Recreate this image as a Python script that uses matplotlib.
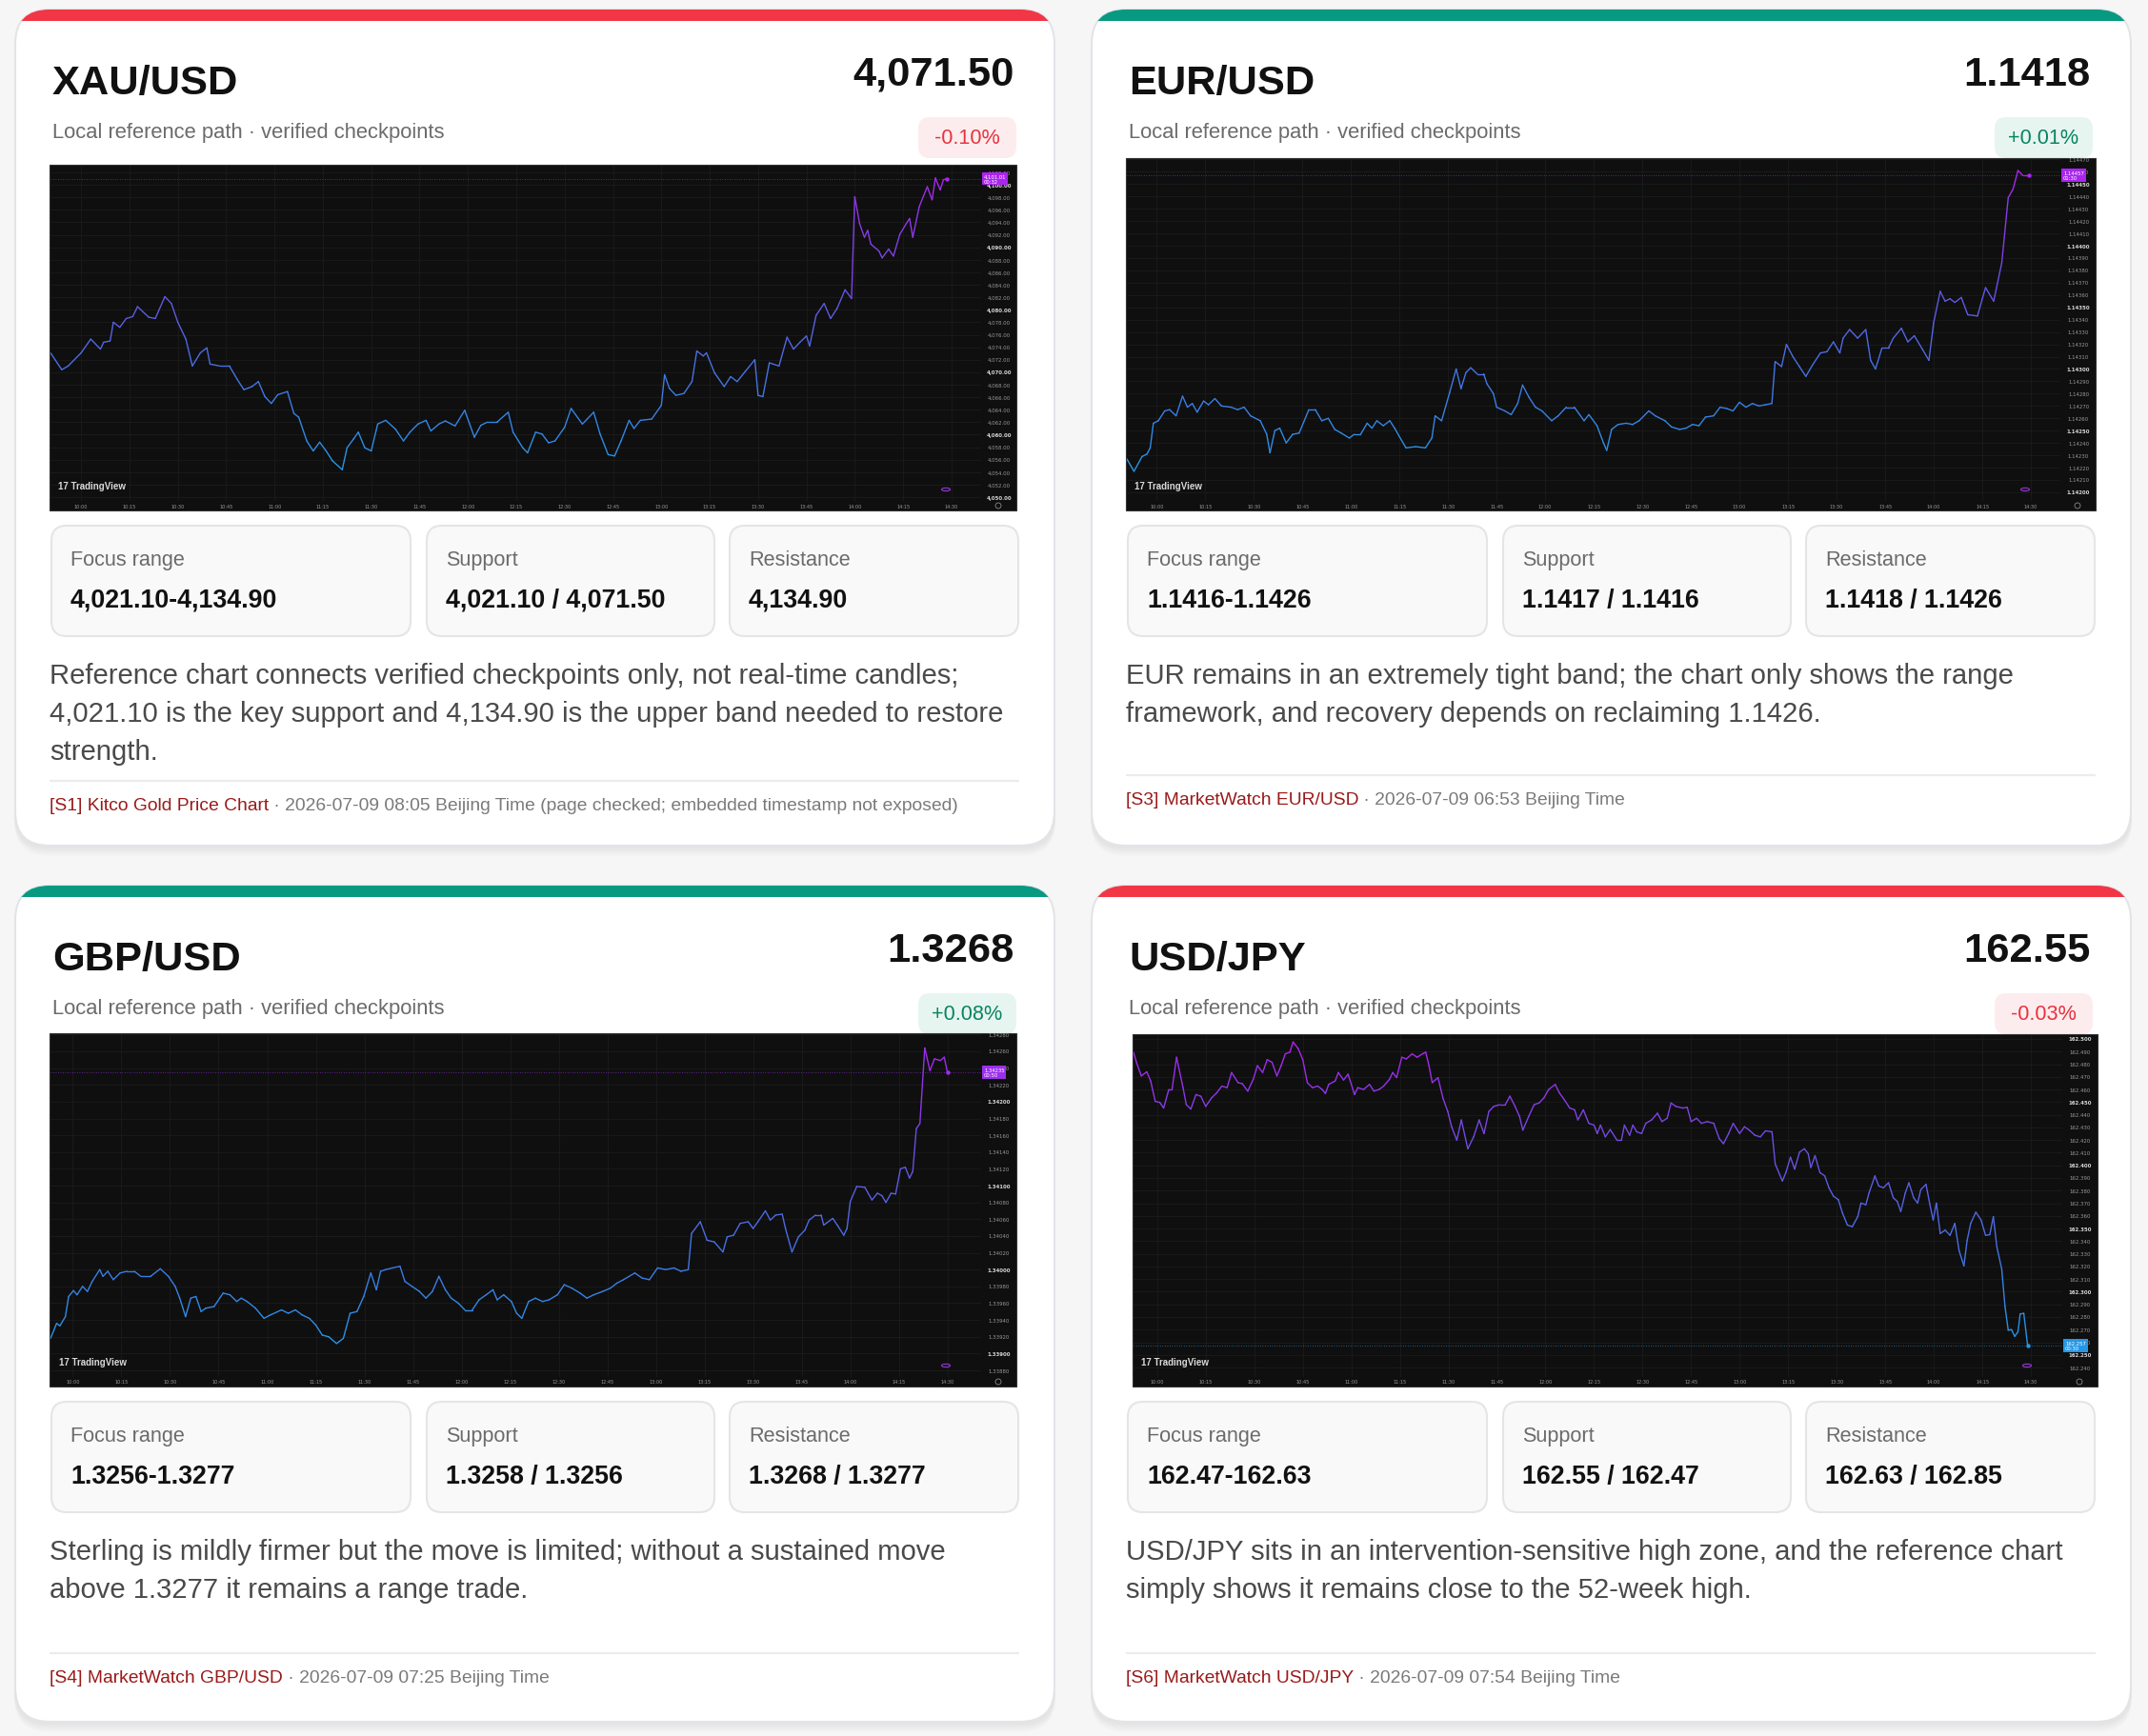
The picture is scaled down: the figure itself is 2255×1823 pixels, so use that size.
import numpy as np
import matplotlib
matplotlib.use("Agg")
import matplotlib.pyplot as plt
from matplotlib.patches import FancyBboxPatch, Rectangle, Circle
from matplotlib.collections import LineCollection
from matplotlib.colors import LinearSegmentedColormap

plt.rcParams["font.family"] = ["Liberation Sans", "DejaVu Sans"]

W_PX, H_PX, DPI = 2255, 1824, 100

# ---- card texts ----
pairs = ["XAU/USD", "EUR/USD", "GBP/USD", "USD/JPY"]
prices = ["4,071.50", "1.1418", "1.3268", "162.55"]
changes = ["-0.10%", "+0.01%", "+0.08%", "-0.03%"]
focus_ranges = ["4,021.10-4,134.90", "1.1416-1.1426", "1.3256-1.3277", "162.47-162.63"]
supports = ["4,021.10 / 4,071.50", "1.1417 / 1.1416", "1.3258 / 1.3256", "162.55 / 162.47"]
resistances = ["4,134.90", "1.1418 / 1.1426", "1.3268 / 1.3277", "162.63 / 162.85"]
notes = [
    ["Reference chart connects verified checkpoints only, not real-time candles;",
     "4,021.10 is the key support and 4,134.90 is the upper band needed to restore",
     "strength."],
    ["EUR remains in an extremely tight band; the chart only shows the range",
     "framework, and recovery depends on reclaiming 1.1426."],
    ["Sterling is mildly firmer but the move is limited; without a sustained move",
     "above 1.3277 it remains a range trade."],
    ["USD/JPY sits in an intervention-sensitive high zone, and the reference chart",
     "simply shows it remains close to the 52-week high."],
]
sources = ["[S1] Kitco Gold Price Chart", "[S3] MarketWatch EUR/USD",
           "[S4] MarketWatch GBP/USD", "[S6] MarketWatch USD/JPY"]
source_times = ["2026-07-09 08:05 Beijing Time (page checked; embedded timestamp not exposed)",
                "2026-07-09 06:53 Beijing Time", "2026-07-09 07:25 Beijing Time",
                "2026-07-09 07:54 Beijing Time"]
tag_prices = ["4,101.01", "1.14457", "1.34235", "162.257"]
tag_timers = ["00:32", "01:30", "00:50", "00:30"]

# time axis of the embedded charts (minutes after 10:00)
time_labels = ["10:00", "10:15", "10:30", "10:45", "11:00", "11:15", "11:30", "11:45", "12:00",
               "12:15", "12:30", "12:45", "13:00", "13:15", "13:30", "13:45", "14:00", "14:15", "14:30"]
time_pos = [0, 15, 30, 45, 60, 75, 90, 105, 120, 135, 150, 165, 180, 195, 210, 225, 240, 255, 270]

# ---- price paths: (minutes after 10:00, price) ----
xau_path = [
    (-9.5, 4073.1), (-6, 4070.4), (-4, 4071.0), (0, 4073.1), (3, 4075.3), (6, 4073.7), (7, 4074.8),
    (9, 4075.0), (10, 4078.0), (12, 4077.2), (14, 4078.6), (16, 4078.9), (17.5, 4080.5), (21, 4078.8),
    (23, 4078.6), (26, 4082.1), (28, 4081.0), (30, 4078.0), (32.5, 4075.3), (34.5, 4071.0), (37, 4073.1),
    (39, 4073.9), (40, 4071.3), (43, 4071.0), (46, 4071.0), (48.5, 4068.8), (50.5, 4067.2), (53, 4067.7),
    (55, 4068.5), (57, 4066.1), (59, 4065.0), (61, 4066.4), (64, 4066.9), (66, 4063.4), (67.5, 4062.8),
    (70, 4059.0), (72, 4057.4), (74, 4058.8), (76, 4057.4), (78, 4055.8), (81, 4054.4), (82.5, 4057.9),
    (84.5, 4059.3), (86, 4060.4), (88, 4057.9), (90, 4057.4), (92, 4061.7), (94.5, 4062.3), (97.5, 4060.9),
    (100, 4059.0), (102, 4060.4), (104.5, 4061.7), (107, 4062.3), (108.5, 4060.6), (111, 4061.7),
    (113, 4062.2), (116, 4061.4), (119, 4063.9), (122, 4059.6), (124, 4061.5), (126, 4062.0),
    (129, 4062.0), (132.5, 4063.6), (134, 4060.4), (137, 4057.9), (138.5, 4057.1), (141, 4060.4),
    (143, 4060.1), (145, 4058.7), (147, 4059.0), (150, 4061.2), (152, 4064.2), (155.5, 4061.7),
    (159, 4063.6), (161, 4060.1), (163.5, 4056.8), (165.5, 4056.6), (167.5, 4059.0), (170, 4062.3),
    (171.5, 4061.0), (173.5, 4062.3), (177, 4062.5), (180, 4064.7), (181, 4069.6), (182.5, 4067.4),
    (184.5, 4066.3), (187, 4066.6), (189.5, 4068.5), (191, 4073.4), (193, 4072.6), (194, 4073.1),
    (196.5, 4069.9), (199.5, 4067.7), (201.5, 4069.3), (203.5, 4068.5), (206, 4070.1), (209, 4072.0),
    (210, 4066.3), (211.5, 4066.1), (213.5, 4071.5), (216.5, 4071.0), (219, 4075.6), (221, 4073.7),
    (223, 4074.8), (225, 4075.8), (226, 4074.2), (228, 4079.1), (230.5, 4081.0), (232.5, 4078.6),
    (234.5, 4080.2), (237, 4083.2), (239, 4081.8), (240, 4098.1), (241.5, 4093.8), (243, 4091.6),
    (244, 4092.7), (245, 4090.5), (247.5, 4089.4), (248.5, 4088.3), (250.5, 4089.7), (252, 4088.6),
    (254, 4092.1), (256, 4093.8), (257, 4094.6), (258, 4091.6), (260, 4096.5), (262.5, 4099.7),
    (264, 4097.6), (265, 4101.1), (266.5, 4099.2), (267.5, 4100.8), (268.5, 4101.0),
]

eur_path = [
    (-9.2, 1.14227), (-7, 1.14217), (-4.5, 1.14229), (-3, 1.14231), (-2, 1.14236), (-1, 1.14256),
    (0.5, 1.14258), (2.5, 1.14266), (4, 1.14267), (6, 1.14262), (8, 1.14278), (9.5, 1.14269),
    (11, 1.14272), (12.5, 1.14265), (14.5, 1.14274), (16, 1.14271), (18, 1.14276), (20, 1.14270),
    (23, 1.14269), (25, 1.14267), (27, 1.14269), (29, 1.14262), (32, 1.14258), (34, 1.14247),
    (35, 1.14232), (36.5, 1.14250), (38, 1.14252), (40, 1.14240), (42, 1.14247), (44, 1.14248),
    (47, 1.14267), (49, 1.14267), (51, 1.14258), (53, 1.14260), (55, 1.14251), (57, 1.14248),
    (59.5, 1.14244), (61, 1.14247), (63, 1.14247), (65, 1.14256), (66.5, 1.14252), (68, 1.14258),
    (70, 1.14254), (72, 1.14258), (73.5, 1.14252), (75, 1.14245), (77, 1.14236), (80, 1.14237),
    (83, 1.14236), (85, 1.14244), (86, 1.14262), (88, 1.14258), (90.5, 1.14281), (92.5, 1.14300),
    (94, 1.14284), (95.5, 1.14297), (97, 1.14301), (99, 1.14296), (101, 1.14296), (102, 1.14288),
    (104, 1.14280), (105, 1.14269), (107.5, 1.14266), (109.5, 1.14263), (111.5, 1.14272),
    (113, 1.14287), (115, 1.14277), (117, 1.14269), (119, 1.14266), (122, 1.14258), (124, 1.14262),
    (126.5, 1.14269), (129, 1.14269), (132, 1.14258), (133.5, 1.14263), (136, 1.14254),
    (138, 1.14240), (139, 1.14234), (140.5, 1.14251), (142.5, 1.14255), (145, 1.14256),
    (147, 1.14255), (149, 1.14258), (152, 1.14266), (154, 1.14262), (157, 1.14258), (159, 1.14253),
    (161.5, 1.14251), (163.5, 1.14252), (165.5, 1.14255), (167.5, 1.14254), (169.5, 1.14261),
    (172, 1.14262), (174, 1.14269), (176, 1.14268), (178, 1.14266), (180, 1.14273), (182, 1.14269),
    (184, 1.14272), (186, 1.14270), (188, 1.14271), (190, 1.14272), (191, 1.14306), (193, 1.14302),
    (194.5, 1.14320), (196.5, 1.14310), (198.5, 1.14302), (200.5, 1.14294), (202.5, 1.14303),
    (205, 1.14313), (207, 1.14314), (209, 1.14322), (211, 1.14313), (212, 1.14325), (214, 1.14332),
    (216.5, 1.14325), (219, 1.14332), (220.5, 1.14307), (222, 1.14300), (224, 1.14317),
    (226, 1.14317), (227.5, 1.14325), (230, 1.14333), (232, 1.14322), (234, 1.14327),
    (236.5, 1.14316), (238.5, 1.14307), (240, 1.14338), (242, 1.14363), (243.5, 1.14355),
    (245, 1.14357), (246.5, 1.14354), (248.5, 1.14358), (250.5, 1.14344), (253.5, 1.14343),
    (255, 1.14357), (256, 1.14366), (258.5, 1.14355), (261, 1.14386), (263, 1.14439),
    (264.5, 1.14446), (266, 1.14461), (267.5, 1.14457), (269.5, 1.14457),
]

gbp_path = [
    (-6.9, 1.33918), (-5, 1.33936), (-4, 1.33933), (-2.3, 1.33944), (-1.3, 1.33968), (0.2, 1.33975),
    (1.3, 1.33970), (3, 1.33980), (4.5, 1.33974), (6, 1.33986), (8.3, 1.34000), (9.3, 1.33992),
    (10.8, 1.33998), (12.5, 1.33988), (14.6, 1.33996), (16.7, 1.33998), (19, 1.33998), (21, 1.33992),
    (24, 1.33992), (27, 1.34001), (29.5, 1.33992), (31.6, 1.33980), (33, 1.33966), (34.8, 1.33944),
    (36.4, 1.33966), (38, 1.33968), (39.6, 1.33950), (41, 1.33954), (43.6, 1.33956), (46.4, 1.33972),
    (48.5, 1.33970), (50.6, 1.33962), (52, 1.33966), (53.8, 1.33962), (56.4, 1.33954), (59, 1.33942),
    (61, 1.33946), (64.4, 1.33952), (66.5, 1.33948), (68.7, 1.33952), (70.8, 1.33946), (73, 1.33942),
    (75, 1.33934), (77, 1.33922), (79, 1.33920), (81.4, 1.33912), (83.5, 1.33918), (85.6, 1.33948),
    (87.7, 1.33950), (89.8, 1.33968), (92, 1.33996), (93.7, 1.33976), (95, 1.33998), (96.6, 1.34000),
    (98.7, 1.34002), (101, 1.34004), (102.5, 1.33986), (104.7, 1.33980), (107, 1.33974),
    (109, 1.33966), (111, 1.33974), (113, 1.33992), (115, 1.33976), (116.8, 1.33966), (119, 1.33960),
    (121, 1.33952), (123.3, 1.33952), (125.4, 1.33964), (127.6, 1.33970), (129.7, 1.33976),
    (131, 1.33964), (133, 1.33970), (135.4, 1.33962), (137, 1.33948), (138.6, 1.33942),
    (140.7, 1.33962), (142.8, 1.33966), (145, 1.33962), (147, 1.33964), (149.6, 1.33970),
    (151.7, 1.33982), (154, 1.33978), (156.6, 1.33972), (158.7, 1.33966), (160.8, 1.33970),
    (163.6, 1.33974), (166, 1.33978), (168, 1.33984), (170, 1.33988), (173.5, 1.33996),
    (175.7, 1.33990), (178, 1.33988), (180.5, 1.34002), (183, 1.34000), (185.6, 1.34002),
    (187.7, 1.33998), (190, 1.34000), (191, 1.34043), (193.7, 1.34057), (195.8, 1.34035),
    (198, 1.34033), (200.7, 1.34021), (202, 1.34039), (204, 1.34041), (206, 1.34055),
    (208.5, 1.34057), (210, 1.34049), (211.5, 1.34057), (213.8, 1.34070), (215.3, 1.34059),
    (217, 1.34065), (219, 1.34066), (220, 1.34049), (222, 1.34021), (224, 1.34039), (226, 1.34047),
    (227.3, 1.34059), (229.3, 1.34065), (231, 1.34065), (231.8, 1.34053), (234.6, 1.34061),
    (236, 1.34053), (238, 1.34041), (239, 1.34049), (240, 1.34081), (242, 1.34099),
    (244.5, 1.34098), (246.7, 1.34083), (248.4, 1.34091), (249.8, 1.34088), (251, 1.34080),
    (252.6, 1.34091), (254, 1.34090), (255.5, 1.34120), (257, 1.34122), (258.3, 1.34109),
    (259.3, 1.34117), (260.4, 1.34168), (261.5, 1.34174), (263, 1.34264), (264.6, 1.34237),
    (266, 1.34251), (267.8, 1.34249), (269, 1.34253), (270, 1.34235),
]

jpy_path = [
    (-7.3, 162.4895), (-6.4, 162.4815), (-4.9, 162.4707), (-3.2, 162.4740), (-2, 162.4667),
    (-0.6, 162.4506), (0.8, 162.4498), (2, 162.4453), (3.6, 162.4600), (4.6, 162.4600),
    (6, 162.4855), (8, 162.4614), (9, 162.4480), (10.4, 162.4445), (12, 162.4560), (13.5, 162.4546),
    (15, 162.4466), (16.8, 162.4533), (18.4, 162.4573), (20, 162.4627), (21.6, 162.4614),
    (23, 162.4734), (25, 162.4654), (26.3, 162.4646), (28, 162.4587), (29.7, 162.4681),
    (31, 162.4788), (32.6, 162.4734), (34, 162.4836), (35.5, 162.4815), (37, 162.4707),
    (38.3, 162.4788), (39.6, 162.4882), (41, 162.4895), (42, 162.4976), (43.6, 162.4922),
    (45, 162.4836), (46.4, 162.4654), (48, 162.4614), (49.6, 162.4627), (51, 162.4600),
    (52, 162.4568), (53, 162.4640), (55, 162.4667), (56, 162.4734), (57.6, 162.4675),
    (59, 162.4721), (61, 162.4560), (62, 162.4614), (63.8, 162.4600), (65.6, 162.4640),
    (67, 162.4587), (68.6, 162.4600), (70, 162.4627), (71.8, 162.4681), (72.8, 162.4734),
    (74, 162.4694), (75.6, 162.4855), (77, 162.4842), (78.8, 162.4882), (80.3, 162.4855),
    (82, 162.4882), (83, 162.4895), (84, 162.4788), (85, 162.4654), (86.8, 162.4694),
    (88.3, 162.4533), (89.8, 162.4426), (91, 162.4305), (92.6, 162.4198), (94, 162.4359),
    (95.3, 162.4211), (96, 162.4131), (97.8, 162.4225), (99.5, 162.4359), (101, 162.4251),
    (102.5, 162.4426), (104, 162.4466), (105.9, 162.4480), (107.6, 162.4480), (109, 162.4547),
    (110.6, 162.4466), (112, 162.4386), (113, 162.4278), (114.8, 162.4386), (116.5, 162.4480),
    (118, 162.4493), (119.5, 162.4533), (121, 162.4600), (123, 162.4640), (124.3, 162.4573),
    (125.8, 162.4520), (127.5, 162.4453), (129, 162.4439), (130, 162.4359), (131.7, 162.4439),
    (133.4, 162.4332), (135, 162.4318), (136, 162.4251), (137, 162.4318), (138.5, 162.4225),
    (140, 162.4283), (142, 162.4203), (143.5, 162.4203), (144.4, 162.4318), (146, 162.4238),
    (147, 162.4318), (148.2, 162.4265), (149.7, 162.4251), (151, 162.4332), (152.8, 162.4359),
    (154.6, 162.4412), (156, 162.4346), (157.6, 162.4372), (158.8, 162.4493), (160.3, 162.4466),
    (162.4, 162.4453), (163.8, 162.4459), (165, 162.4346), (166.7, 162.4372), (168.2, 162.4332),
    (170, 162.4346), (172, 162.4332), (173.7, 162.4211), (175, 162.4171), (176.6, 162.4251),
    (178, 162.4332), (180, 162.4251), (181.5, 162.4305), (183, 162.4278), (184.7, 162.4238),
    (186.4, 162.4225), (188, 162.4273), (190, 162.4265), (191, 162.4010), (193.2, 162.3876),
    (194.3, 162.3943), (195.7, 162.4064), (197, 162.3970), (198.5, 162.4104), (200, 162.4131),
    (201.2, 162.4091), (202, 162.3983), (203.3, 162.4077), (204.8, 162.3943), (206.3, 162.3916),
    (207.6, 162.3822), (209, 162.3755), (210.5, 162.3728), (211.8, 162.3621), (213.3, 162.3527),
    (214.8, 162.3514), (216.5, 162.3594), (217.5, 162.3701), (219, 162.3688), (220, 162.3782),
    (221.8, 162.3916), (223, 162.3836), (224.4, 162.3822), (226, 162.3862), (227.5, 162.3742),
    (228.7, 162.3715), (229.8, 162.3634), (231.2, 162.3782), (232.3, 162.3862), (233.8, 162.3742),
    (235, 162.3701), (236, 162.3808), (237.6, 162.3849), (238.7, 162.3701), (239.8, 162.3567),
    (240.8, 162.3701), (242, 162.3460), (243.5, 162.3487), (245, 162.3446), (246.5, 162.3540),
    (247.8, 162.3326), (249.3, 162.3205), (250.3, 162.3406), (251.4, 162.3540), (253, 162.3629),
    (254.6, 162.3567), (256, 162.3446), (257.3, 162.3451), (258.4, 162.3594), (259.5, 162.3353),
    (261, 162.3178), (262, 162.2883), (263, 162.2695), (264, 162.2700), (265, 162.2647),
    (266, 162.2682), (266.7, 162.2824), (267.8, 162.2829), (269, 162.2574),
]

paths = [xau_path, eur_path, gbp_path, jpy_path]
price_ticks = [np.arange(4050, 4103, 2.0),
               np.round(np.arange(1.14200, 1.144705, 0.0001), 5),
               np.round(np.arange(1.33880, 1.342805, 0.0002), 5),
               np.round(np.arange(162.240, 162.5005, 0.01), 3)]
tick_fmt = ["{:,.2f}", "{:.5f}", "{:.5f}", "{:.3f}"]
major_step = [10.0, 0.0005, 0.001, 0.05]
y_limits = [(4049.4, 4103.06), (1.14193, 1.144703), (1.338721, 1.342804), (162.2325, 162.503)]
x_limits = [(-9.5, 279.2), (-9.2, 279.1), (-6.9, 280.4), (-7.3, 279.7)]

# ---- layout (pixels, origin top-left) ----
card_origin = [(16, 11), (1146, 11), (16, 931), (1146, 931)]
CARD_W, CARD_H = 1091, 878
chart_boxes = [(52, 174, 1067, 537), (1182, 167, 2200, 537),
               (52, 1086, 1067, 1457), (1189, 1087, 2202, 1457)]
sep_y = [810, 804, 806, 806]
foot_y = [840, 834, 836, 836]

RED, GREEN = "#f23645", "#089981"
line_cmap = LinearSegmentedColormap.from_list("tv", ["#1ba3e6", "#3f78e4", "#6a4fe3", "#b31ff0"])

fig = plt.figure(figsize=(W_PX / DPI, H_PX / DPI), dpi=DPI, facecolor="#f6f6f7")
bg = fig.add_axes([0, 0, 1, 1])
bg.set_xlim(0, W_PX)
bg.set_ylim(H_PX, 0)
bg.axis("off")
renderer = fig.canvas.get_renderer()


def fig_rect(x0, y0, x1, y1):
    return [x0 / W_PX, 1 - y1 / H_PX, (x1 - x0) / W_PX, (y1 - y0) / H_PX]


def rounded(x, y, w, h, r, **kw):
    p = FancyBboxPatch((x, y), w, h, boxstyle=f"round,pad=0,rounding_size={r}", **kw)
    bg.add_patch(p)
    return p


def draw_chart(i):
    x0, y0, x1, y1 = chart_boxes[i]
    bg.add_patch(Rectangle((x0, y0), x1 - x0, y1 - y0, fc="#0f0f0f", ec="#333333", lw=0.8, zorder=3))
    px0, py0, px1, py1 = x0 + 1, y0 + 1, x1 - 37, y1 - 10
    pw, ph = px1 - px0, py1 - py0
    ax = fig.add_axes(fig_rect(px0, py0, px1, py1))
    ax.set_facecolor("#0f0f0f")
    for s in ax.spines.values():
        s.set_visible(False)
    ax.set_xlim(*x_limits[i])
    ax.set_ylim(*y_limits[i])
    ax.set_xticks(time_pos)
    ax.set_yticks(price_ticks[i])
    ax.tick_params(length=0, labelbottom=False, labelleft=False)
    ax.grid(True, color="#1c1c1c", lw=0.6)

    t = np.array([p[0] for p in paths[i]])
    v = np.array([p[1] for p in paths[i]])
    segs = np.stack([np.column_stack([t[:-1], v[:-1]]), np.column_stack([t[1:], v[1:]])], axis=1)
    norm = plt.Normalize(*y_limits[i])
    lc = LineCollection(segs, colors=line_cmap(norm((v[:-1] + v[1:]) / 2)), linewidths=1.0,
                        capstyle="round", joinstyle="round", zorder=3)
    ax.add_collection(lc)
    tag_color = line_cmap(norm(v[-1]))
    ax.plot(t[-1], v[-1], "o", ms=2.2, color=tag_color, zorder=4)
    ax.axhline(v[-1], color=tag_color, lw=0.6, ls=(0, (1, 2)), alpha=0.8, zorder=2)

    yt = ax.get_yaxis_transform()
    for val in price_ticks[i]:
        major = abs(val / major_step[i] - round(val / major_step[i])) < 1e-6
        ax.text(1 + 19 / pw, val, tick_fmt[i].format(val), transform=yt, ha="center", va="center",
                fontsize=3.9, family="DejaVu Sans", color="#d6d6d6" if major else "#9a9a9a",
                fontweight="bold" if major else "normal", clip_on=False)
    ax.text(1 + 3 / pw, v[-1], f"{tag_prices[i]}\n{tag_timers[i]}", transform=yt, ha="left",
            va="center", fontsize=3.8, family="DejaVu Sans", color="white", linespacing=1.05,
            clip_on=False, zorder=6,
            bbox=dict(boxstyle="square,pad=0.35", fc=tag_color, ec="none"))
    xt = ax.get_xaxis_transform()
    for pos, lab in zip(time_pos, time_labels):
        ax.text(pos, -5 / ph, lab, transform=xt, ha="center", va="center", fontsize=3.6,
                family="DejaVu Sans", color="#9a9a9a", clip_on=False)
    ax.text(x_limits[i][0] + 2.5, 0.045, "17 TradingView", transform=xt, ha="left", va="center",
            fontsize=7, fontweight="bold", color="#d8d8d8", zorder=5)
    ax.add_patch(Circle((1 - 37 / pw, 12 / ph), radius=4.5 / pw, transform=ax.transAxes,
                        fc="none", ec="#9b35d8", lw=0.8, zorder=5))
    bg.add_patch(Circle((x1 - 19, y1 - 5), 3, fc="none", ec="#8a8a8a", lw=0.6, zorder=4))


for i in range(4):
    L, T = card_origin[i]
    accent = RED if changes[i].startswith("-") else GREEN
    # shadow + card
    for k in range(6):
        rounded(L - 1, T + 3 + k * 1.6, CARD_W + 2, CARD_H, 36, fc="#000000", ec="none",
                alpha=0.012, zorder=0)
    card = rounded(L, T, CARD_W, CARD_H, 36, fc="white", ec="#e2e4e8", lw=1.5, zorder=1)
    bar = Rectangle((L, T), CARD_W, 12, fc=accent, ec="none", zorder=2)
    bg.add_patch(bar)
    bar.set_clip_path(card)

    bg.text(L + 39, T + 88, pairs[i], fontsize=31.2, fontweight="bold", color="#111111",
            va="baseline", ha="left", zorder=5)
    bg.text(L + 1049, T + 79, prices[i], fontsize=31.3, fontweight="bold", color="#111111",
            va="baseline", ha="right", zorder=5)
    bg.text(L + 39, T + 134, "Local reference path \u00b7 verified checkpoints", fontsize=15.8,
            color="#6b6b6b", va="baseline", ha="left", zorder=5)

    neg = changes[i].startswith("-")
    bx0, bx1, by0, by1 = L + 948, L + 1051, T + 113, T + 156
    rounded(bx0, by0, bx1 - bx0, by1 - by0, 12, fc="#fdecee" if neg else "#e7f5f1", ec="none", zorder=2)
    bg.text((bx0 + bx1) / 2, by0 + 27, changes[i], ha="center", va="baseline", fontsize=15.6,
            color="#e8323f" if neg else "#08845f", zorder=5)

    draw_chart(i)

    for (sx0, sx1), lab, val in zip([(38, 415), (432, 734), (750, 1053)],
                                    ["Focus range", "Support", "Resistance"],
                                    [focus_ranges[i], supports[i], resistances[i]]):
        rounded(L + sx0, T + 542, sx1 - sx0, 116, 16, fc="#f9f9fa", ec="#e4e5e8", lw=1.5, zorder=2)
        bg.text(L + sx0 + 20, T + 583, lab, fontsize=15.6, color="#6b6b6b", va="baseline", zorder=5)
        bg.text(L + sx0 + 20, T + 627, val, fontsize=19.3, fontweight="bold", color="#111111",
                va="baseline", zorder=5)

    for k, line in enumerate(notes[i]):
        bg.text(L + 36, T + 707 + 40 * k, line, fontsize=21.1, color="#4a4a4a", va="baseline", zorder=5)

    bg.plot([L + 36, L + 1054], [T + sep_y[i], T + sep_y[i]], color="#ececee", lw=1.6,
            solid_capstyle="butt", zorder=2)
    t1 = bg.text(L + 36, T + foot_y[i], sources[i], fontsize=13.85, color="#9a1a1a", va="baseline", zorder=5)
    bb = t1.get_window_extent(renderer=renderer)
    bg.text(bb.x1, T + foot_y[i], " \u00b7 " + source_times[i], fontsize=13.85, color="#7a7a7a",
            va="baseline", zorder=5)

fig.savefig("out.png", dpi=DPI, facecolor=fig.get_facecolor())
